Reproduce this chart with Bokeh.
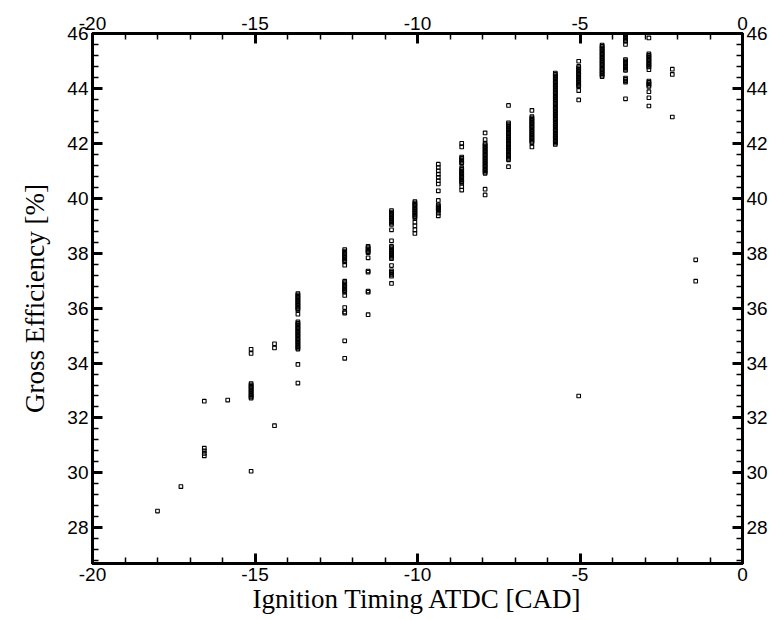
from bokeh.plotting import figure
from bokeh.models import LinearAxis, FixedTicker, Range1d, ColumnDataSource, CustomJSTickFormatter
from bokeh.embed import file_html
from bokeh.resources import INLINE

# Ignition timing columns [CAD ATDC] and gross efficiency values [%]
timing = [-19.44, -18.0, -17.28, -16.56, -15.84, -15.12, -14.4, -13.68,
          -12.24, -11.52, -10.8, -10.08, -9.36, -8.64, -7.92, -7.2,
          -6.48, -5.76, -5.04, -4.32, -3.6, -2.88, -2.16, -1.44]

efficiency = [
    [26.65],
    [28.61],
    [29.5],
    [32.61, 30.9, 30.8, 30.71, 30.62],
    [32.65],
    [34.5, 34.35, 33.25, 33.2, 33.15, 33.1, 33.05, 33.0, 32.95, 32.9, 32.85, 32.8,
     32.76, 32.72, 30.06],
    [34.7, 34.55, 31.72],
    [36.53, 36.48, 36.43, 36.38, 36.33, 36.28, 36.23, 36.18, 36.13, 36.08, 36.03, 35.98,
     35.93, 35.78, 35.5, 35.45, 35.4, 35.35, 35.3, 35.25, 35.2, 35.15, 35.1, 35.05,
     35.0, 34.95, 34.9, 34.85, 34.8, 34.75, 34.7, 34.65, 34.6, 34.55, 34.51, 33.95, 33.27],
    [38.13, 38.08, 38.03, 37.98, 37.93, 37.88, 37.83, 37.78, 37.73, 37.68, 37.56,
     36.98, 36.93, 36.88, 36.83, 36.78, 36.73, 36.68, 36.63, 36.58, 36.46, 36.02,
     35.86, 35.82, 34.81, 34.17],
    [38.25, 38.2, 38.15, 38.1, 38.05, 38.02, 37.83, 37.35, 37.31, 36.62, 36.58, 35.76],
    [39.55, 39.5, 39.45, 39.4, 39.35, 39.3, 39.25, 39.2, 39.15, 39.1, 39.05, 38.85,
     38.45, 38.25, 38.2, 38.15, 38.1, 38.05, 38.0, 37.95, 37.9, 37.85, 37.8, 37.55,
     37.36, 37.31, 37.26, 37.21, 37.16, 36.9],
    [39.88, 39.83, 39.78, 39.73, 39.68, 39.63, 39.58, 39.53, 39.48, 39.43, 39.38, 39.33,
     39.28, 39.13, 39.0, 38.85, 38.72],
    [41.24, 41.12, 41.0, 40.88, 40.76, 40.64, 40.52, 40.27, 39.92, 39.76, 39.72, 39.68,
     39.65, 39.62, 39.58, 39.54, 39.46, 39.36],
    [42.0, 41.87, 41.5, 41.45, 41.4, 41.35, 41.3, 41.27, 41.1, 41.05, 41.0, 40.95,
     40.9, 40.85, 40.8, 40.75, 40.7, 40.65, 40.6, 40.55, 40.42, 40.3],
    [42.38, 42.14, 42.0, 41.95, 41.9, 41.85, 41.8, 41.75, 41.7, 41.65, 41.6, 41.55,
     41.5, 41.45, 41.4, 41.35, 41.3, 41.25, 41.2, 41.15, 41.1, 41.05, 41.0, 40.95,
     40.91, 40.33, 40.12],
    [43.38, 42.75, 42.7, 42.65, 42.6, 42.55, 42.5, 42.45, 42.4, 42.35, 42.3, 42.25,
     42.2, 42.15, 42.1, 42.05, 42.0, 41.95, 41.9, 41.85, 41.8, 41.75, 41.7, 41.65,
     41.6, 41.55, 41.5, 41.45, 41.4, 41.15],
    [43.2, 42.97, 42.92, 42.87, 42.82, 42.77, 42.72, 42.67, 42.62, 42.57, 42.52, 42.47,
     42.42, 42.37, 42.32, 42.27, 42.22, 42.17, 42.12, 42.07, 42.02, 41.87],
    [44.56, 44.51, 44.46, 44.41, 44.36, 44.31, 44.26, 44.21, 44.16, 44.11, 44.06, 44.01,
     43.96, 43.91, 43.86, 43.81, 43.76, 43.71, 43.66, 43.61, 43.56, 43.51, 43.46, 43.41,
     43.36, 43.31, 43.26, 43.21, 43.16, 43.11, 43.06, 43.01, 42.96, 42.91, 42.86, 42.81,
     42.76, 42.71, 42.66, 42.61, 42.56, 42.51, 42.46, 42.41, 42.36, 42.31, 42.26, 42.21,
     42.16, 42.11, 42.06, 42.01, 41.96],
    [44.99, 44.8, 44.75, 44.7, 44.65, 44.6, 44.55, 44.5, 44.45, 44.4, 44.35, 44.3,
     44.25, 44.2, 44.15, 44.1, 44.06, 43.92, 43.58, 32.8],
    [45.58, 45.53, 45.48, 45.43, 45.38, 45.33, 45.28, 45.23, 45.18, 45.13, 45.08, 45.03,
     44.98, 44.93, 44.88, 44.83, 44.78, 44.73, 44.68, 44.63, 44.58, 44.53, 44.48, 44.43],
    [46.1, 46.05, 46.0, 45.95, 45.9, 45.85, 45.8, 45.75, 45.72, 45.6, 45.05, 45.0,
     44.95, 44.9, 44.85, 44.8, 44.75, 44.7, 44.66, 44.38, 44.33, 44.28, 44.23, 43.62],
    [45.84, 45.26, 45.21, 45.16, 45.11, 45.06, 45.01, 44.96, 44.91, 44.86, 44.81, 44.78,
     44.68, 44.27, 44.22, 44.17, 44.12, 44.07, 43.88, 43.66, 43.36],
    [44.7, 44.51, 42.96],
    [37.76, 36.98],
]

x_major = [-20, -15, -10, -5, 0]
x_minor = [-19, -18, -17, -16, -14, -13, -12, -11, -9, -8, -7, -6, -4, -3, -2, -1]
y_major = [28, 30, 32, 34, 36, 38, 40, 42, 44, 46]
y_minor = [26.8, 27.2, 27.6, 28.4, 28.8, 29.2, 29.6, 30.4, 30.8, 31.2, 31.6,
           32.4, 32.8, 33.2, 33.6, 34.4, 34.8, 35.2, 35.6, 36.4, 36.8, 37.2, 37.6,
           38.4, 38.8, 39.2, 39.6, 40.4, 40.8, 41.2, 41.6, 42.4, 42.8, 43.2, 43.6,
           44.4, 44.8, 45.2, 45.6]

xs, ys = [], []
for t, col in zip(timing, efficiency):
    for v in col:
        xs.append(t)
        ys.append(v)
src = ColumnDataSource(dict(x=xs, y=ys))

p = figure(width=776, height=616, output_backend="svg", toolbar_location=None,
           x_range=Range1d(-20, 0), y_range=Range1d(26.7, 46),
           x_axis_location=None, y_axis_location=None,
           min_border_left=92, min_border_right=34, min_border_top=33, min_border_bottom=51)
p.xgrid.visible = False
p.ygrid.visible = False
p.outline_line_color = "black"
p.outline_line_width = 3
p.background_fill_color = "white"
p.border_fill_color = "white"

p.scatter("x", "y", source=src, marker="square", size=3.6,
          fill_color=None, line_color="black", line_width=1.1)

xt = FixedTicker(ticks=x_major, minor_ticks=x_minor)
yt = FixedTicker(ticks=y_major, minor_ticks=y_minor)
fmt = CustomJSTickFormatter(code="return tick.toString();")

def style(ax):
    ax.formatter = fmt
    ax.axis_line_width = 3
    ax.axis_line_color = "black"
    ax.major_tick_in = 10
    ax.major_tick_out = 0
    ax.major_tick_line_width = 3
    ax.minor_tick_in = 6
    ax.minor_tick_out = 0
    ax.minor_tick_line_width = 1.5
    ax.major_label_text_font = "Liberation Sans"
    ax.major_label_text_font_size = "19px"
    ax.major_label_text_color = "black"
    ax.axis_label_text_font = "Liberation Serif"
    ax.axis_label_text_font_style = "normal"
    ax.axis_label_text_font_size = "27px"
    ax.axis_label_text_color = "black"
    ax.major_label_standoff = 4

bottom = LinearAxis(ticker=xt, axis_label="Ignition Timing ATDC [CAD]")
top = LinearAxis(ticker=xt)
left = LinearAxis(ticker=yt, axis_label="Gross Efficiency [%]")
right = LinearAxis(ticker=yt)
for ax in (bottom, top, left, right):
    style(ax)
bottom.axis_label_standoff = 0
left.axis_label_standoff = 14

p.add_layout(bottom, "below")
p.add_layout(top, "above")
p.add_layout(left, "left")
p.add_layout(right, "right")

open("out.html", "w").write(file_html(p, INLINE))
